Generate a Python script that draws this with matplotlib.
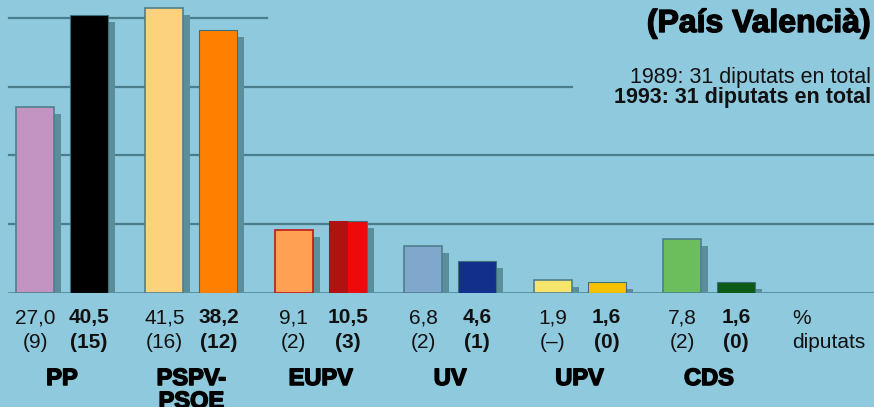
import matplotlib
matplotlib.use("Agg")
import matplotlib.pyplot as plt
import matplotlib.patheffects as pe
from matplotlib.transforms import blended_transform_factory
import numpy as np

plt.rcParams['font.family'] = ['Liberation Sans', 'DejaVu Sans']

parties = ["PP", "PSPV-\nPSOE", "EUPV", "UV", "UPV", "CDS"]
pct_1989 = [27.0, 41.5, 9.1, 6.8, 1.9, 7.8]
pct_1993 = [40.5, 38.2, 10.5, 4.6, 1.6, 1.6]
seats_1989 = ["(9)", "(16)", "(2)", "(2)", "(–)", "(2)"]
seats_1993 = ["(15)", "(12)", "(3)", "(1)", "(0)", "(0)"]
colors_1989 = ["#c394c2", "#fdd27c", "#ffa052", "#80a8cc", "#f6e46c", "#6cbe5c"]
colors_1993 = ["#000000", "#ff8000", "#ee0a0a", "#10308c", "#f6c200", "#0b5a16"]
edges_1989 = ["#4f7f8c", "#4f7f8c", "#c01818", "#4f7f8c", "#4f7f8c", "#4f7f8c"]
gridvals = [10, 20, 30, 40]
grid_extent = {10: 1.0, 20: 1.0, 30: 0.655, 40: 0.305}

title = "(País Valencià)"
total_1989 = "1989: 31 diputats en total"
total_1993 = "1993: 31 diputats en total"

W, H = 874, 407
bg = "#8fc9dd"
gridc = "#4b7e8a"
shadow = "#5a8e9a"

fig = plt.figure(figsize=(W / 100, H / 100), dpi=100, facecolor=bg)
base_px = 293
ax = fig.add_axes([0, (H - base_px) / H, 1, base_px / H])
ax.set_facecolor(bg)
px_per_unit = 6.875
ax.set_ylim(0, base_px / px_per_unit)
gsp = 129.4
ax.set_xlim(-62 / gsp, (W - 62) / gsp)
for s in ax.spines.values():
    s.set_visible(False)
ax.set_xticks([])
ax.set_yticks([])

for g in gridvals:
    ax.axhline(g, xmin=0.01, xmax=grid_extent[g], color=gridc, lw=1.6, zorder=1)
ax.axhline(0, xmin=0.01, xmax=1.0, color=gridc, lw=1.8, zorder=1)

x = np.arange(len(parties))
off = 27 / gsp
bw = 38 / gsp
sh = [pe.SimplePatchShadow(offset=(5, -5), shadow_rgbFace=shadow, alpha=1.0), pe.Normal()]

b1 = ax.bar(x - off, pct_1989, width=bw, color=colors_1989, edgecolor=edges_1989,
            linewidth=1.2, zorder=3)
for b in b1:
    b.set_path_effects(sh)
b2 = ax.bar(x + off, pct_1993, width=bw, color=colors_1993, edgecolor="#3f6f7a",
            linewidth=0.8, zorder=3)
for b in b2:
    b.set_path_effects(sh)
# EUPV 1993 bar shows a dark-red left half in print
ax.bar(x[2] + off - bw / 4, pct_1993[2], width=bw / 2, color="#b01212", zorder=4, linewidth=0)

tr = blended_transform_factory(ax.transData, fig.transFigure)
def fy(p):
    return 1 - p / H

fs_num = 15
heavy = [pe.withStroke(linewidth=1.1, foreground="#000000")]
for i in range(len(parties)):
    ax.text(x[i] - off, fy(318), f"{pct_1989[i]:.1f}".replace(".", ","), transform=tr,
            ha="center", va="center", fontsize=fs_num, color="#111111")
    ax.text(x[i] + off, fy(318), f"{pct_1993[i]:.1f}".replace(".", ","), transform=tr,
            ha="center", va="center", fontsize=fs_num, fontweight="bold", color="#111111")
    ax.text(x[i] - off, fy(343), seats_1989[i], transform=tr,
            ha="center", va="center", fontsize=fs_num, color="#111111")
    ax.text(x[i] + off, fy(343), seats_1993[i], transform=tr,
            ha="center", va="center", fontsize=fs_num, fontweight="bold", color="#111111")
    t = ax.text(x[i], fy(367), parties[i], transform=tr, ha="center", va="top",
                fontsize=17, fontweight="bold", color="#000000", linespacing=1.0)
    t.set_path_effects(heavy)

fig.text(792 / W, fy(318), "%", ha="left", va="center", fontsize=fs_num, color="#111111")
fig.text(792 / W, fy(343), "diputats", ha="left", va="center", fontsize=fs_num, color="#111111")

tt = fig.text(871 / W, fy(24), title, ha="right", va="center", fontsize=23,
              fontweight="bold", color="#000000")
tt.set_path_effects([pe.withStroke(linewidth=1.0, foreground="#000000")])
fig.text(871 / W, fy(77), total_1989, ha="right", va="center", fontsize=15.5, color="#111111")
fig.text(871 / W, fy(98), total_1993, ha="right", va="center", fontsize=15.5,
         fontweight="bold", color="#111111")

fig.savefig("out.png", dpi=100, facecolor=bg)
